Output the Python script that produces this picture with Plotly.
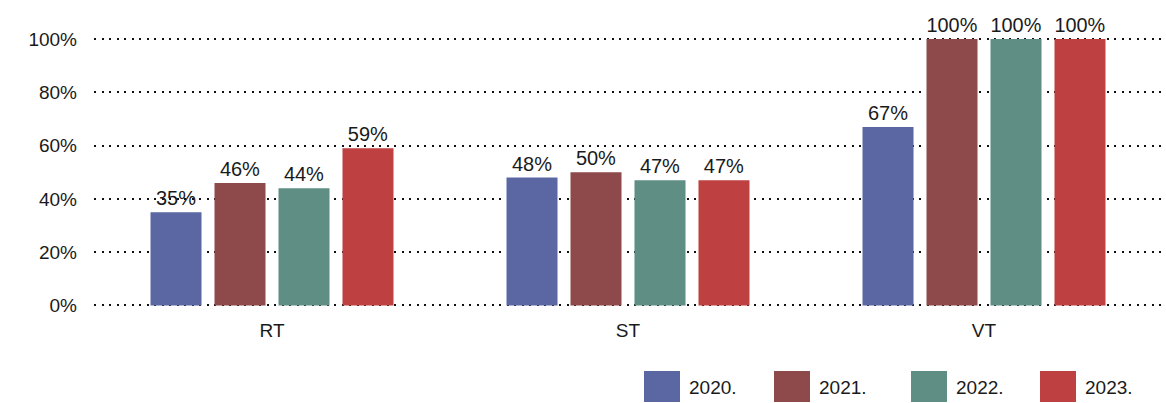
import plotly.graph_objects as go

categories = ["RT", "ST", "VT"]
series_names = ["2020.", "2021.", "2022.", "2023."]
values_2020 = [35, 48, 67]
values_2021 = [46, 50, 100]
values_2022 = [44, 47, 100]
values_2023 = [59, 47, 100]
y_ticks = [0, 20, 40, 60, 80, 100]
y_tick_labels = ["0%", "20%", "40%", "60%", "80%", "100%"]

series_values = [values_2020, values_2021, values_2022, values_2023]
colors = ["#5A67A3", "#8E4A4A", "#5F8E84", "#BE4040"]

FONT = "Liberation Sans, Arial, Helvetica, sans-serif"
TXT = "#1a1a1a"

fig = go.Figure()
for name, vals, col in zip(series_names, series_values, colors):
    fig.add_trace(go.Bar(
        x=categories, y=vals, name=name,
        marker=dict(color=col, line=dict(width=0)),
        text=[f"{v}%" for v in vals], textposition="outside",
        textfont=dict(size=20, color=TXT, family=FONT),
        cliponaxis=False, showlegend=False,
    ))

# custom legend (large swatches) in paper coordinates
plot_l, plot_r = 94, 1162
plot_t, plot_b = 38, 307
pw = plot_r - plot_l
ph = plot_b - plot_t
legend_px = [644, 774, 911, 1040]
for name, col, x0px in zip(series_names, colors, legend_px):
    fig.add_shape(type="rect", xref="paper", yref="paper",
                  x0=(x0px - plot_l) / pw, x1=(x0px + 36 - plot_l) / pw,
                  y0=(plot_b - 402) / ph, y1=(plot_b - 371) / ph,
                  fillcolor=col, line=dict(width=0))
    fig.add_annotation(xref="paper", yref="paper", x=(x0px + 43 - plot_l) / pw,
                       y=(plot_b - 387) / ph, text=name, showarrow=False,
                       xanchor="left", yanchor="middle",
                       font=dict(size=19, color=TXT, family=FONT))

fig.update_layout(
    width=1166, height=403,
    margin=dict(l=plot_l, r=1166 - plot_r, t=plot_t, b=403 - plot_b),
    paper_bgcolor="white", plot_bgcolor="white",
    barmode="group", bargap=0.281, bargroupgap=0.203,
    font=dict(family=FONT, size=19, color=TXT),
    showlegend=False,
)
fig.update_xaxes(showgrid=False, showline=False, ticks="", ticklabelstandoff=10,
                 tickfont=dict(size=19, color=TXT))
fig.update_yaxes(range=[-0.6, 100.4], tickvals=y_ticks, ticktext=y_tick_labels,
                 showgrid=True, gridcolor="#111111", gridwidth=2, griddash="2px,5.5px",
                 zeroline=False, showline=False, ticks="", ticklabelstandoff=16,
                 tickfont=dict(size=19, color=TXT))

fig.write_html("out.html", config={"displayModeBar": False},
               post_script="document.body.style.margin='0';")
